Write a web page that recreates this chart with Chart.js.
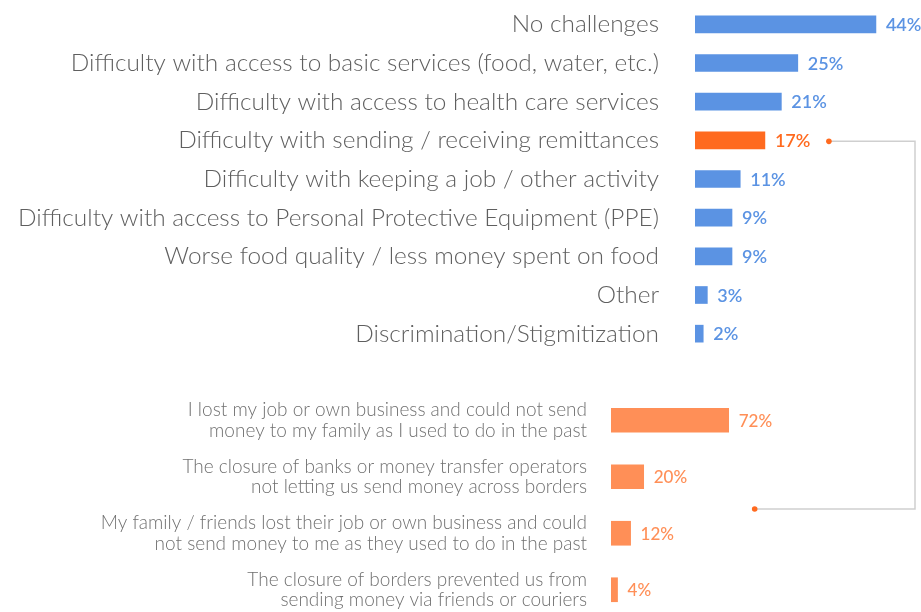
<!DOCTYPE html>
<html>
<head>
<meta charset="utf-8">
<script src="https://cdn.jsdelivr.net/npm/chart.js@4/dist/chart.umd.min.js"></script>
<style>
    html, body { margin: 0; padding: 0; background: #fff; overflow: hidden; width: 921px; height: 612px; }
    canvas { position: absolute; left: 0; display: block; }
    #topChart { top: 0; }
    #bottomChart { top: 388px; }
    #connector { position: absolute; left: 0; top: 0; pointer-events: none; }
</style>
</head>
<body>
<canvas id="topChart" width="921" height="357"></canvas>
<canvas id="bottomChart" width="921" height="230"></canvas>
<svg id="connector" width="921" height="612"></svg>
<script>
// --- Data ---
const challengeLabels = [
    'No challenges',
    'Difficulty with access to basic services (food, water, etc.)',
    'Difficulty with access to health care services',
    'Difficulty with sending / receiving remittances',
    'Difficulty with keeping a job / other activity',
    'Difficulty with access to Personal Protective Equipment (PPE)',
    'Worse food quality / less money spent on food',
    'Other',
    'Discrimination/Stigmitization'
];
const challengeValues = [44, 25, 21, 17, 11, 9, 9, 3, 2];
const highlightIndex = 3;

const remittanceLabels = [
    ['I lost my job or own business and could not send', 'money to my family as I used to do in the past'],
    ['The closure of banks or money transfer operators', 'not letting us send money across borders'],
    ['My family / friends lost their job or own business and could', 'not send money to me as they used to do in the past'],
    ['The closure of borders prevented us from', 'sending money via friends or couriers']
];
const remittanceValues = [72, 20, 12, 4];

const BLUE = '#5b93e3';
const ORANGE = '#ff6a1f';
const LIGHT_ORANGE = '#ff8f57';
const LABEL_GRAY = '#5f5f5f';
const FONT = 'Lato, "Open Sans", sans-serif';

// draws the "44%" style labels at the end of each bar
const valueLabels = {
    id: 'valueLabels',
    afterDatasetsDraw(chart, args, opts) {
        const ctx = chart.ctx;
        const meta = chart.getDatasetMeta(0);
        const ds = chart.data.datasets[0];
        ctx.save();
        ctx.font = opts.font;
        ctx.textBaseline = 'middle';
        ctx.textAlign = 'left';
        meta.data.forEach((bar, i) => {
            ctx.fillStyle = Array.isArray(ds.backgroundColor) ? ds.backgroundColor[i] : ds.backgroundColor;
            ctx.fillText(ds.data[i] + '%', bar.x + opts.offset, bar.y + 1);
        });
        ctx.restore();
    }
};

// fixed label column; also drop the vertical padding Chart.js adds from tick padding
function fixedAxisWidth(w) {
    return (scale) => {
        scale.width = w;
        scale.paddingTop = 0;
        scale.paddingBottom = 0;
    };
}

const topChart = new Chart(document.getElementById('topChart'), {
    type: 'bar',
    data: {
        labels: challengeLabels,
        datasets: [{
            data: challengeValues,
            backgroundColor: challengeValues.map((v, i) => i === highlightIndex ? ORANGE : BLUE),
            barThickness: 17
        }]
    },
    options: {
        indexAxis: 'y',
        responsive: false,
        animation: false,
        layout: { padding: { top: 5, right: 6, bottom: 4, left: 0 } },
        plugins: {
            legend: { display: false },
            tooltip: { enabled: false },
            valueLabels: { font: '600 18px ' + FONT, offset: 10 }
        },
        scales: {
            x: { display: false, min: 0, max: 53.5 },
            y: {
                afterFit: fixedAxisWidth(695),
                grid: { display: false, drawTicks: false },
                border: { display: false },
                ticks: { color: LABEL_GRAY, padding: 36, autoSkip: false, font: { family: FONT, size: 24.4, weight: 300 } }
            }
        }
    },
    plugins: [valueLabels]
});

const bottomChart = new Chart(document.getElementById('bottomChart'), {
    type: 'bar',
    data: {
        labels: remittanceLabels,
        datasets: [{
            data: remittanceValues,
            backgroundColor: LIGHT_ORANGE,
            barThickness: 24
        }]
    },
    options: {
        indexAxis: 'y',
        responsive: false,
        animation: false,
        layout: { padding: { top: 4, right: 6, bottom: 0, left: 0 } },
        plugins: {
            legend: { display: false },
            tooltip: { enabled: false },
            valueLabels: { font: '500 17px ' + FONT, offset: 10 }
        },
        scales: {
            x: { display: false, min: 0, max: 186 },
            y: {
                afterFit: fixedAxisWidth(611),
                grid: { display: false, drawTicks: false },
                border: { display: false },
                ticks: { color: '#707070', padding: 24, autoSkip: false, font: { family: FONT, size: 19, weight: 300, lineHeight: 1.08 } }
            }
        }
    },
    plugins: [valueLabels]
});

// --- connector from the highlighted bar to the breakdown chart ---
function drawConnector() {
    const svg = document.getElementById('connector');
    const hiBar = topChart.getDatasetMeta(0).data[highlightIndex];
    const bMeta = bottomChart.getDatasetMeta(0).data;
    const bottomTop = document.getElementById('bottomChart').offsetTop;

    const x1 = hiBar.x + 64, y1 = hiBar.y + 1;
    const xr = 915;
    const x2 = bMeta[0].x + 26;
    const y2 = bottomTop + (bMeta[1].y + bMeta[2].y) / 2 + 4;

    svg.innerHTML =
        `<polyline points="${x1},${y1} ${xr},${y1} ${xr},${y2} ${x2},${y2}" fill="none" stroke="#cfcfcf" stroke-width="1.5"/>` +
        `<circle cx="${x1}" cy="${y1}" r="2.8" fill="${ORANGE}"/>` +
        `<circle cx="${x2}" cy="${y2}" r="2.8" fill="${ORANGE}"/>`;
}
drawConnector();
</script>
</body>
</html>
